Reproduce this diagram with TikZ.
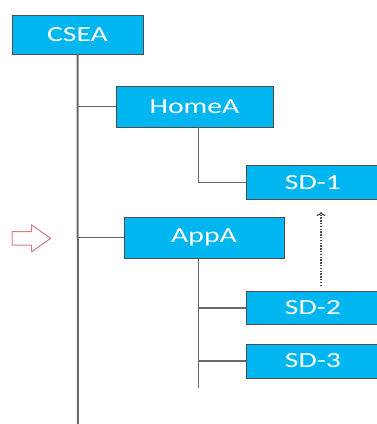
\documentclass[tikz,border=0pt]{standalone}
\usepackage{fontspec}
\setmainfont{Carlito}
\usepackage{graphicx}
\usepackage{xcolor}
\usetikzlibrary{positioning}
\usetikzlibrary{arrows.meta}

\definecolor{boxblue}{RGB}{0,182,240}
\definecolor{linegray}{RGB}{105,105,105}
\definecolor{arrowpink}{RGB}{212,128,128}

\newcommand{\wide}[1]{\scalebox{1.38}[1]{#1}}

\tikzset{
box/.style={draw=black!70, line width=0.9pt, fill=boxblue, text=white, inner sep=0pt, font=\fontsize{21.5}{24}\selectfont},
trunk/.style={draw=linegray, line width=2pt},
link/.style={draw=linegray, line width=1.5pt},
hint/.style={draw=black!70, line width=1.4pt, dash pattern=on 1.4pt off 1.4pt, -{To[length=4pt,width=9pt,line width=1.2pt]}}
}

\begin{document}
\begin{tikzpicture}[x=1pt, y=-1pt]

\useasboundingbox (0,0) rectangle (377,424);

% boxes
\node[box, minimum width=131pt, minimum height=39pt] (csea) at (77.5,34.5) {\wide{CSEA}};
\node[box, minimum width=157pt, minimum height=41pt] (homea) at (194.5,106.5) {\wide{HomeA}};
\node[box, minimum width=160pt, minimum height=41pt] (appa) at (204,237.5) {\wide{AppA}};
\node[box, minimum width=134pt, minimum height=34pt] (sdone) at (313,182.5) {\wide{SD-1}};
\node[box, minimum width=134pt, minimum height=33pt] (sdtwo) at (313,308) {\wide{SD-2}};
\node[box, minimum width=134pt, minimum height=34pt] (sdthree) at (313,361) {\wide{SD-3}};

% tree lines
\coordinate (trunkend) at (78,424);
\coordinate (homestem) at (198.5,182.5);
\coordinate (appstem) at (198.5,388);

\draw[trunk] (csea.south) -- (trunkend);
\draw[link] (csea.south |- homea.west) -- (homea.west);
\draw[link] (csea.south |- appa.west) -- (appa.west);

\draw[link] (homestem |- homea.south) -- (homestem) -- (sdone.west);

\draw[link] (appstem |- appa.south) -- (appstem);
\draw[link] (appstem |- sdtwo.west) -- (sdtwo.west);
\draw[link] (appstem |- sdthree.west) -- (sdthree.west);

% dotted hint
\coordinate (hinttip) at (321,212);
\coordinate (hintfoot) at (321,286);
\draw[hint] (hintfoot) -- (hinttip);

% side arrow
\draw[arrowpink, line width=1pt, fill=white]
  (12,231.7)--(31.7,231.7)--(31.7,225)--(50.7,238.3)--(31.7,251.7)--(31.7,245)--(12,245)--cycle;

\end{tikzpicture}
\end{document}
